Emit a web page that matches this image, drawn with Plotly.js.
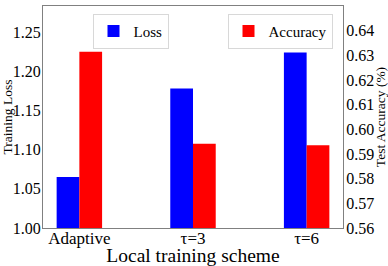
<!DOCTYPE html>
<html>
<head>
<meta charset="utf-8">
<script src="https://cdn.plot.ly/plotly-3.0.1.min.js"></script>
<style>html,body{margin:0;padding:0;background:#fff;}#chart{width:388px;height:266px;}</style>
</head>
<body>
<div id="chart"></div>
<script>
const categories = ["Adaptive", "τ=3", "τ=6"];
const lossValues = [1.065, 1.178, 1.224];
const accuracyValues = [0.6315, 0.5942, 0.5935];
const lossTicks = [1.00, 1.05, 1.10, 1.15, 1.20, 1.25];
const accTicks = [0.56, 0.57, 0.58, 0.59, 0.60, 0.61, 0.62, 0.63, 0.64, 0.65];

const font = "Liberation Serif, Times New Roman, serif";
const spine = "#808080";

const traces = [
  {type: "bar", name: "Loss", x: categories, y: lossValues, yaxis: "y",
   width: 0.2, offset: -0.2, marker: {color: "#0000ff", line: {width: 0}},
   legend: "legend"},
  {type: "bar", name: "Accuracy", x: categories, y: accuracyValues, yaxis: "y2",
   width: 0.2, offset: 0, marker: {color: "#ff0000", line: {width: 0}},
   legend: "legend2"}
];

const layout = {
  width: 388, height: 266,
  margin: {l: 42.5, r: 44.5, t: 6, b: 37.5},
  paper_bgcolor: "#fff", plot_bgcolor: "#fff",
  font: {family: font, color: "#000", size: 15},
  showlegend: true,
  xaxis: {
    type: "category", range: [-0.32, 2.32],
    showline: true, linecolor: spine, linewidth: 1, mirror: true,
    ticks: "", ticklabelstandoff: -5,
    tickfont: {family: font, size: 17},
    title: {text: "Local training scheme", font: {family: font, size: 19.5}, standoff: 0},
    showgrid: false, zeroline: false
  },
  yaxis: {
    range: [1.0, 1.2835], tickvals: lossTicks, ticktext: lossTicks.map(v => v.toFixed(2)),
    showline: true, linecolor: spine, linewidth: 1,
    ticks: "", ticklabelstandoff: -2,
    tickfont: {family: font, size: 16},
    title: {text: "Training Loss", font: {family: font, size: 13.5}, standoff: 0},
    showgrid: false, zeroline: false
  },
  yaxis2: {
    overlaying: "y", side: "right",
    range: [0.56, 0.65], tickvals: accTicks, ticktext: accTicks.map(v => v.toFixed(2)),
    showline: true, linecolor: spine, linewidth: 1,
    ticks: "", ticklabelstandoff: -1,
    tickfont: {family: font, size: 16},
    title: {text: "Test Accuracy (%)", font: {family: font, size: 13.5}, standoff: 0},
    showgrid: false, zeroline: false
  },
  legend: {
    x: 0.165, y: 0.965, xanchor: "left", yanchor: "top",
    bgcolor: "#fff", bordercolor: "#d8d8d8", borderwidth: 1,
    font: {family: font, size: 15}, itemwidth: 30
  },
  legend2: {
    x: 0.615, y: 0.965, xanchor: "left", yanchor: "top",
    bgcolor: "#fff", bordercolor: "#d8d8d8", borderwidth: 1,
    font: {family: font, size: 15}, itemwidth: 30
  }
};

Plotly.newPlot("chart", traces, layout, {displayModeBar: false, staticPlot: true});
</script>
</body>
</html>
